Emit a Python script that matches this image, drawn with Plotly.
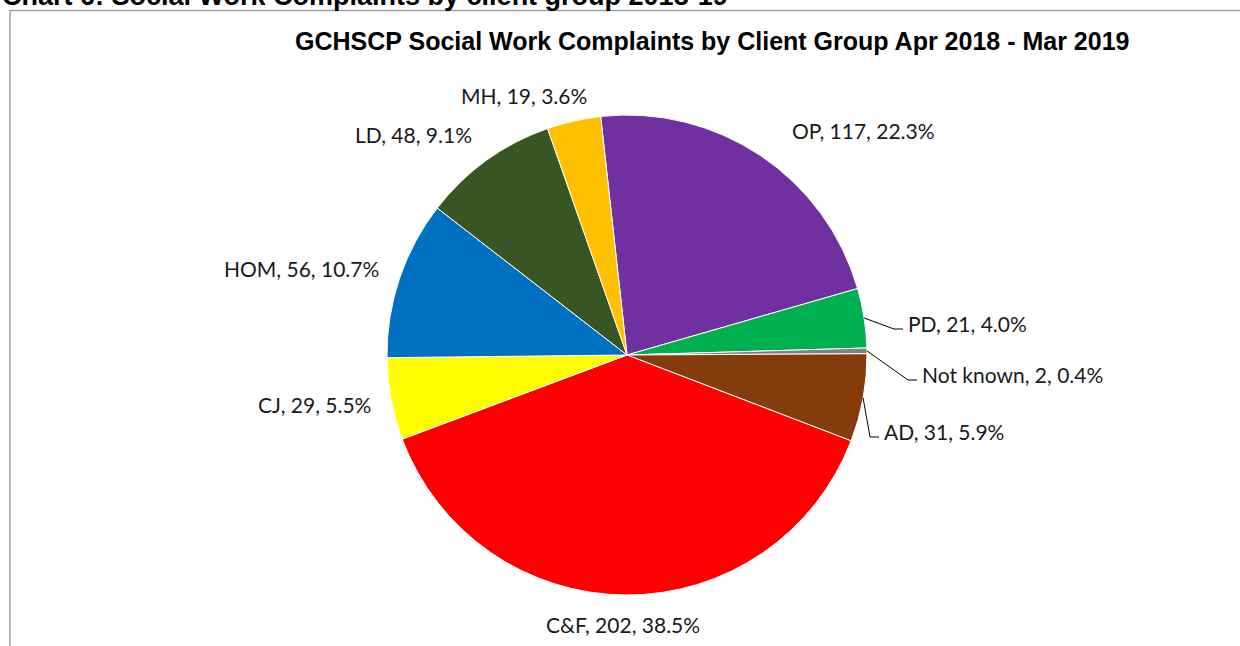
import math
import plotly.graph_objects as go

# Complaints by client group, Apr 2018 - Mar 2019
groups = ["OP", "PD", "Not known", "AD", "C&F", "CJ", "HOM", "LD", "MH"]
complaints = [117, 21, 2, 31, 202, 29, 56, 48, 19]
colours = ["#7030A0", "#00B050", "#808080", "#843C0C", "#FF0000",
           "#FFFF00", "#0070C0", "#375623", "#FFC000"]

W, H = 1240, 646
CX, CY, R = 627, 355, 240          # pie centre and radius, in pixels
ROTATION = -6.3                     # start angle of the first slice (deg, clockwise from 12)

total = sum(complaints)


def px(x):
    return x / W


def py(y):
    return 1 - y / H


fig = go.Figure(go.Pie(
    labels=groups,
    values=complaints,
    sort=False,
    direction="clockwise",
    rotation=ROTATION,
    marker=dict(colors=colours, line=dict(color="white", width=1)),
    textinfo="none",
    hoverinfo="label+value+percent",
    domain=dict(x=[px(CX - R), px(CX + R)], y=[py(CY + R), py(CY - R)]),
    showlegend=False,
))

# Label placement: (x, y, xanchor) in pixels, plus whether a leader line is drawn
label_pos = {
    "OP": (863, 130, "center", False),
    "PD": (906, 323, "left", True),
    "Not known": (920, 374, "left", True),
    "AD": (882, 431, "left", True),
    "C&F": (623, 624, "center", False),
    "CJ": (373, 404, "right", False),
    "HOM": (381, 268, "right", False),
    "LD": (474, 135, "right", False),
    "MH": (589, 95, "right", False),
}

label_font = dict(family="Lato, 'Noto Sans', sans-serif", size=21, color="#1a1a1a")

annotations = []
shapes = []
cum = 0
for name, val in zip(groups, complaints):
    pct = 100 * val / total
    x, y, anchor, leader = label_pos[name]
    annotations.append(dict(
        text=f"{name}, {val}, {pct:.1f}%",
        x=px(x), y=py(y), xref="paper", yref="paper",
        xanchor=anchor, yanchor="middle", showarrow=False, font=label_font,
    ))
    if leader:
        mid = math.radians(ROTATION + 360 * (cum + val / 2) / total)
        sx, sy = CX + R * math.sin(mid), CY - R * math.cos(mid)
        ex, ey = x - 12, y + 6
        tx = x - 3
        shapes.append(dict(
            type="path", xref="paper", yref="paper",
            path=f"M {px(sx)},{py(sy)} L {px(ex)},{py(ey)} L {px(tx)},{py(ey)}",
            line=dict(color="black", width=1),
        ))
    cum += val

# Chart title
annotations.append(dict(
    text="<b>GCHSCP Social Work Complaints by Client Group Apr 2018 - Mar 2019</b>",
    x=px(712), y=py(41), xref="paper", yref="paper",
    xanchor="center", yanchor="middle", showarrow=False,
    font=dict(family="Liberation Sans, Arial, sans-serif", size=25, color="black"),
))

# Section heading above the chart frame
annotations.append(dict(
    text="<b>Chart 6: Social Work Complaints by client group 2018-19</b>",
    x=px(0), y=py(-4), xref="paper", yref="paper",
    xanchor="left", yanchor="middle", showarrow=False,
    font=dict(family="Liberation Sans, Arial, sans-serif", size=27, color="black"),
))

# Chart frame
shapes.append(dict(
    type="rect", xref="paper", yref="paper",
    x0=px(10), x1=px(W + 20), y0=py(H + 20), y1=py(10.5),
    line=dict(color="#A0A0A0", width=1.5), fillcolor="rgba(0,0,0,0)", layer="below",
))

fig.update_layout(
    width=W, height=H,
    margin=dict(l=0, r=0, t=0, b=0),
    paper_bgcolor="white", plot_bgcolor="white",
    annotations=annotations, shapes=shapes,
)

fig.write_html("out.html")
